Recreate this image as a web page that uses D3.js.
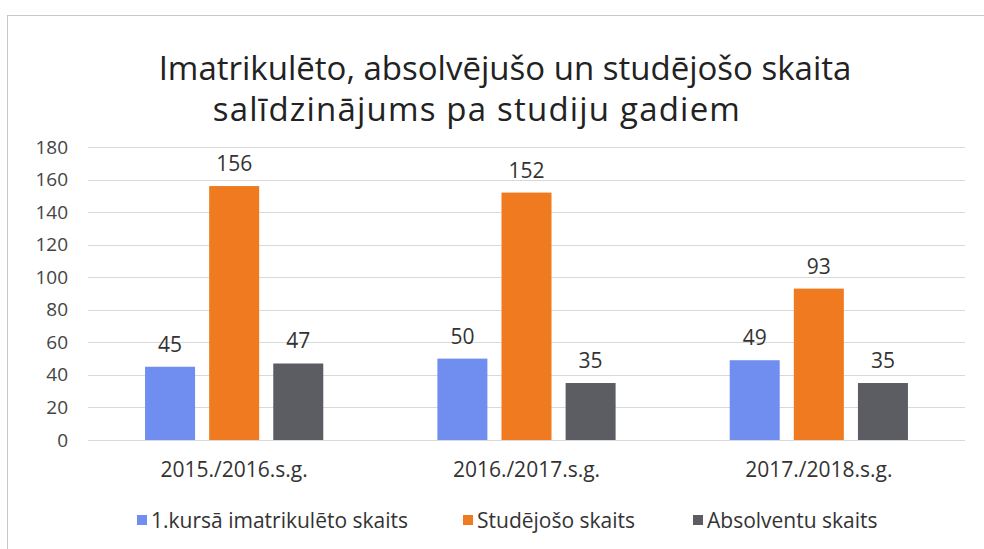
<!DOCTYPE html>
<html>
<head>
<meta charset="utf-8">
<script src="https://cdn.jsdelivr.net/npm/d3@7"></script>
<style>
  body { margin: 0; background: #fff; }
  text { font-family: "Open Sans", "DejaVu Sans", sans-serif; }
</style>
</head>
<body>
<div id="chart"></div>
<script>
// chart data
var years = ["2015./2016.s.g.", "2016./2017.s.g.", "2017./2018.s.g."];
var seriesNames = ["1.kursā imatrikulēto skaits", "Studējošo skaits", "Absolventu skaits"];
var imatrikuleti = [45, 50, 49];
var studejosi = [156, 152, 93];
var absolventi = [47, 35, 35];
var yTicks = [0, 20, 40, 60, 80, 100, 120, 140, 160, 180];
var colors = ["#6f8ef0", "#ef7a1f", "#5b5d63"];

var width = 984, height = 549;
var margin = {top: 147, right: 19, bottom: 109, left: 88};

var svg = d3.select("#chart")
	.append("svg")
	.attr("width", width)
	.attr("height", height);

// outer frame
svg.append("rect")
	.attr("x", 7.5).attr("y", 15.5)
	.attr("width", 990).attr("height", 560)
	.attr("fill", "none")
	.attr("stroke", "#c8c8c8");

// title
var title = svg.append("text")
	.attr("text-anchor", "middle")
	.attr("font-size", 33)
	.attr("fill", "#222");
title.append("tspan").attr("x", 505).attr("y", 80)
	.text("Imatrikulēto, absolvējušo un studējošo skaita");
title.append("tspan").attr("x", 477).attr("y", 121)
	.attr("letter-spacing", 1.2)
	.text("salīdzinājums pa studiju gadiem");

var x0 = d3.scaleBand()
	.domain(years)
	.range([margin.left, width - margin.right]);

var x1 = d3.scaleBand()
	.domain(seriesNames)
	.range([0, x0.bandwidth()])
	.paddingInner(0.22)
	.paddingOuter(0.89);

var y = d3.scaleLinear()
	.domain([0, 180])
	.range([height - margin.bottom, margin.top]);

// gridlines
svg.append("g")
	.selectAll("line")
	.data(yTicks)
	.enter()
	.append("line")
	.attr("x1", margin.left)
	.attr("x2", width - margin.right)
	.attr("y1", d => Math.round(y(d)) + 0.5)
	.attr("y2", d => Math.round(y(d)) + 0.5)
	.attr("stroke", "#d9d9d9")
	.attr("stroke-width", 1);

// y axis labels
var yAxis = svg.append("g")
	.attr("transform", "translate(" + (margin.left - 20) + ",0)")
	.call(d3.axisLeft(y).tickValues(yTicks).tickSize(0).tickPadding(0));
yAxis.select(".domain").remove();
yAxis.selectAll("text")
	.attr("font-size", 19)
	.attr("fill", "#444")
	.style("font-family", "'Open Sans', sans-serif");

// x axis labels
var xAxis = svg.append("g")
	.attr("transform", "translate(0," + (height - margin.bottom) + ")")
	.call(d3.axisBottom(x0).tickSize(0).tickPadding(22));
xAxis.select(".domain").remove();
xAxis.selectAll("text")
	.attr("font-size", 21)
	.attr("fill", "#333")
	.style("font-family", "'Open Sans', sans-serif");

var rows = years.map(function (yr, i) {
	return {year: yr, values: [imatrikuleti[i], studejosi[i], absolventi[i]]};
});

var groups = svg.append("g")
	.selectAll("g")
	.data(rows)
	.enter()
	.append("g")
	.attr("transform", d => "translate(" + x0(d.year) + ",0)");

groups.selectAll("rect")
	.data(d => d.values.map((v, j) => ({name: seriesNames[j], value: v, idx: j})))
	.enter()
	.append("rect")
	.attr("x", d => x1(d.name))
	.attr("width", x1.bandwidth())
	.attr("y", d => y(d.value))
	.attr("height", d => y(0) - y(d.value))
	.attr("fill", d => colors[d.idx]);

groups.selectAll("text.val")
	.data(d => d.values.map((v, j) => ({name: seriesNames[j], value: v})))
	.enter()
	.append("text")
	.attr("class", "val")
	.attr("x", d => x1(d.name) + x1.bandwidth() / 2)
	.attr("y", d => y(d.value) - 15)
	.attr("text-anchor", "middle")
	.attr("font-size", 21)
	.attr("fill", "#333")
	.text(d => d.value);

// legend
var legendX = [137, 463, 693];
var legend = svg.append("g")
	.selectAll("g")
	.data(seriesNames)
	.enter()
	.append("g")
	.attr("transform", (d, i) => "translate(" + legendX[i] + "," + 521 + ")");
legend.append("rect")
	.attr("x", 0).attr("y", -6)
	.attr("width", 10).attr("height", 10)
	.attr("fill", (d, i) => colors[i]);
legend.append("text")
	.attr("x", 14)
	.attr("y", 7)
	.attr("font-size", 21)
	.attr("fill", "#333")
	.text(d => d);
</script>
</body>
</html>
